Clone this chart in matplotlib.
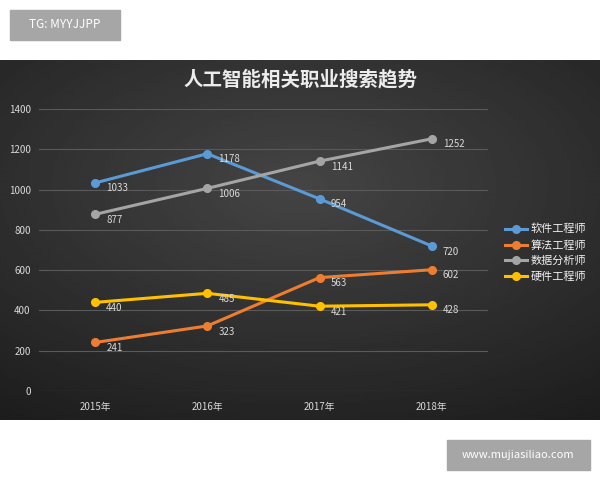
import numpy as np
import matplotlib.pyplot as plt
import matplotlib.patches as mpatches

plt.rcParams['font.family'] = ['Noto Sans CJK SC', 'DejaVu Sans']

# 数据
years = ['2015年', '2016年', '2017年', '2018年']
software = [1033, 1178, 954, 720]
algorithm = [241, 323, 563, 602]
data_analyst = [877, 1006, 1141, 1252]
hardware = [440, 485, 421, 428]
series_names = ['软件工程师', '算法工程师', '数据分析师', '硬件工程师']
series_colors = ['#5b9bd5', '#ed7d31', '#a5a5a5', '#ffc000']
y_ticks = [0, 200, 400, 600, 800, 1000, 1200, 1400]

fig = plt.figure(figsize=(6, 4.8), dpi=100)
fig.patch.set_facecolor('white')

# 深色背景面板（渐变）
bg = fig.add_axes([0, 0.125, 1, 0.75])
gx = np.linspace(-1, 1, 300)
gy = np.linspace(-1, 1, 200)
X, Y = np.meshgrid(gx, gy)
r = np.sqrt((X * 0.9) ** 2 + (Y + 0.3) ** 2)
bg.imshow(0.27 - 0.1 * r, cmap='gray', vmin=0, vmax=1, aspect='auto',
          extent=[0, 1, 0, 1])
bg.set_axis_off()

ax = fig.add_axes([0.065, 0.1854, 0.748, 0.5875])
ax.set_facecolor('none')
all_series = [software, algorithm, data_analyst, hardware]
x = np.arange(len(years))
for vals, name, color in zip(all_series, series_names, series_colors):
    ax.plot(x, vals, color=color, lw=2.2, marker='o', markersize=5.5,
            label=name, zorder=3)
    for xi, v in zip(x, vals):
        ax.annotate(str(v), (xi, v), xytext=(8, -4), textcoords='offset points',
                    color='#d9d9d9', fontsize=7, va='center', ha='left',
                    zorder=4)

ax.set_xlim(-0.5, 3.5)
ax.set_ylim(0, 1400)
ax.set_yticks(y_ticks)
ax.set_xticks(x)
ax.set_xticklabels(years)
ax.tick_params(colors='#d9d9d9', labelsize=7, length=0)
ax.tick_params(axis='y', pad=6)
ax.tick_params(axis='x', pad=8)
ax.grid(axis='y', color='#5a5a5a', lw=0.8)
ax.set_axisbelow(True)
for s in ax.spines.values():
    s.set_visible(False)

fig.text(0.5, 0.835, '人工智能相关职业搜索趋势', color='#ececec', fontsize=14,
         ha='center', va='center', fontweight='bold')

leg = fig.legend(loc='center left', bbox_to_anchor=(0.825, 0.473), frameon=False,
                 fontsize=8, labelcolor='#f2f2f2', handlelength=2.0,
                 handletextpad=0.3, labelspacing=0.5)

# 水印框
fig.patches.append(mpatches.Rectangle((10 / 600, 1 - 40 / 480), 110 / 600, 30 / 480,
                                      transform=fig.transFigure, color='#a6a6a6'))
fig.text(65 / 600, 1 - 25 / 480, 'TG: MYYJJPP', color='white', fontsize=8.5,
         ha='center', va='center')
fig.patches.append(mpatches.Rectangle((447 / 600, 1 - 470 / 480), 143 / 600, 30 / 480,
                                      transform=fig.transFigure, color='#a6a6a6'))
fig.text(518 / 600, 1 - 455 / 480, 'www.mujiasiliao.com', color='white', fontsize=8,
         ha='center', va='center')

fig.savefig('out.png', dpi=100)
